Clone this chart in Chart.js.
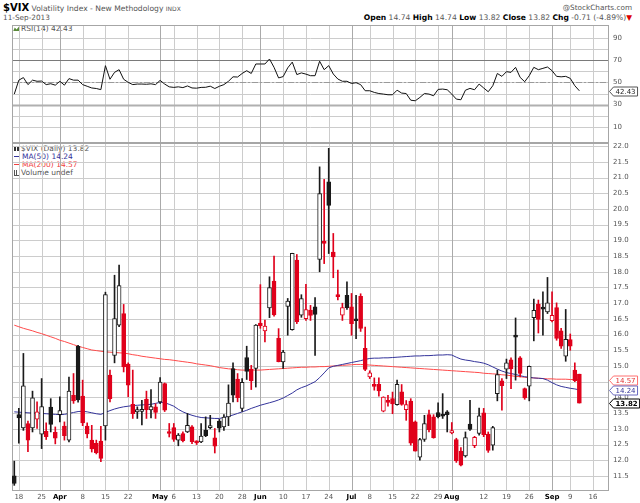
<!DOCTYPE html>
<html>
<head>
<meta charset="utf-8">
<title>$VIX daily</title>
<script src="https://cdn.jsdelivr.net/npm/chart.js@4.4.1/dist/chart.umd.min.js"></script>
<style>
  body { margin: 0; background: #fff; }
  #page { position: relative; width: 640px; height: 503px; overflow: hidden; font-family: 'DejaVu Sans', Verdana, sans-serif; }
  canvas { position: absolute; left: 0; }
  #rsiCanvas { top: 25px; }
  #priceCanvas { top: 143px; }
  .t { position: absolute; white-space: nowrap; font-size: 7.3px; color: #555; line-height: 8px; }
  .t b { color: #000; }
  .ic { display: inline-block; vertical-align: middle; margin-right: 2px; }
  .ln { width: 6px; height: 1px; margin-top: -1px; }
</style>
</head>
<body>
<div id="page">
  <div class="t" style="left:3px;top:2px;line-height:11px;font-size:7.6px"><b style="font-size:10px">$VIX</b> Volatility Index - New Methodology <span style="font-size:6px">INDX</span></div>
  <div class="t" style="left:3px;top:14px">11-Sep-2013</div>
  <div class="t" style="right:8px;top:4px">@StockCharts.com</div>
  <div class="t" id="quote" style="right:8px;top:14px;font-size:7.6px"></div>
  <div class="t" id="rsiLabel" style="left:13px;top:25px;font-size:7.5px"></div>
  <div class="t" id="legend" style="left:14px;top:145px;font-size:7.5px"></div>
  <canvas id="rsiCanvas" width="640" height="118"></canvas>
  <canvas id="priceCanvas" width="640" height="360"></canvas>
</div>
<script>
// trading days of 2013 (MM-DD); the last six are empty future slots on the axis
const DATES = [
  '03-15','03-18','03-19','03-20','03-21','03-22','03-25','03-26','03-27','03-28',
  '04-01','04-02','04-03','04-04','04-05','04-08','04-09','04-10','04-11','04-12',
  '04-15','04-16','04-17','04-18','04-19','04-22','04-23','04-24','04-25','04-26',
  '04-29','04-30','05-01','05-02','05-03','05-06','05-07','05-08','05-09','05-10',
  '05-13','05-14','05-15','05-16','05-17','05-20','05-21','05-22','05-23','05-24',
  '05-28','05-29','05-30','05-31','06-03','06-04','06-05','06-06','06-07','06-10',
  '06-11','06-12','06-13','06-14','06-17','06-18','06-19','06-20','06-21','06-24',
  '06-25','06-26','06-27','06-28','07-01','07-02','07-03','07-05','07-08','07-09',
  '07-10','07-11','07-12','07-15','07-16','07-17','07-18','07-19','07-22','07-23',
  '07-24','07-25','07-26','07-29','07-30','07-31','08-01','08-02','08-05','08-06',
  '08-07','08-08','08-09','08-12','08-13','08-14','08-15','08-16','08-19','08-20',
  '08-21','08-22','08-23','08-26','08-27','08-28','08-29','08-30','09-03','09-04',
  '09-05','09-06','09-09','09-10','09-11',
  '09-12','09-13','09-16','09-17','09-18','09-19'
];

// date axis labels (month names are drawn bold)
const X_TICKS = {
  '03-18': '18', '03-25': '25', '04-01': 'Apr', '04-08': '8', '04-15': '15', '04-22': '22',
  '05-01': 'May', '05-06': '6', '05-13': '13', '05-20': '20', '05-28': '28',
  '06-03': 'Jun', '06-10': '10', '06-17': '17', '06-24': '24',
  '07-01': 'Jul', '07-08': '8', '07-15': '15', '07-22': '22', '07-29': '29',
  '08-01': 'Aug', '08-12': '12', '08-19': '19', '08-26': '26',
  '09-03': 'Sep', '09-09': '9', '09-16': '16'
};

const OPEN = [
  11.50,13.45,13.03,13.17,13.03,13.31,12.83,12.92,13.69,12.89,
  13.45,13.09,12.64,14.07,15.63,14.04,13.09,12.64,12.54,12.61,
  13.09,14.71,15.34,16.30,16.67,15.06,13.78,13.54,13.55,13.94,
  13.60,13.70,13.86,14.44,12.90,13.04,12.64,12.85,12.90,13.06,
  12.57,12.58,12.96,13.04,12.71,13.25,13.06,13.38,14.92,14.58,
  13.65,15.27,14.90,14.92,16.37,16.12,16.85,17.70,15.88,15.13,
  16.90,16.16,18.37,16.62,16.51,16.78,16.88,18.39,18.97,20.86,
  18.63,17.25,16.62,17.25,16.88,16.48,17.22,15.56,14.65,14.36,
  14.42,13.56,13.90,13.96,13.77,14.18,13.61,13.88,13.22,12.10,
  12.66,13.45,13.38,13.52,13.44,13.54,12.87,12.66,12.29,12.14,
  13.15,12.46,12.85,13.51,12.83,12.48,14.12,14.53,14.90,15.20,
  15.98,15.26,14.28,14.36,16.54,16.96,16.83,16.72,16.44,16.86,
  16.12,15.31,15.84,14.87,14.74
];
const HIGH = [
  11.97,13.65,15.40,13.25,14.20,13.86,14.60,13.19,13.96,13.06,
  14.02,13.22,14.65,14.76,15.66,14.55,13.19,13.11,12.64,13.08,
  17.35,14.87,17.89,18.21,16.96,15.10,14.87,13.70,13.91,14.20,
  14.25,13.80,14.63,14.46,13.17,13.17,12.85,12.90,13.49,13.10,
  12.62,13.17,13.38,13.43,13.01,13.30,13.45,14.40,15.10,14.76,
  14.60,15.63,15.02,16.32,17.59,16.46,17.84,18.50,16.19,15.50,
  17.15,18.59,18.55,17.27,17.60,16.93,17.18,21.34,20.94,21.93,
  19.22,18.05,17.00,17.68,17.31,17.25,17.30,16.24,14.85,14.62,
  14.62,14.02,14.07,14.17,14.55,14.41,13.90,13.96,13.25,12.70,
  13.43,13.60,13.45,13.83,14.12,13.58,13.20,12.70,12.40,12.90,
  13.91,12.76,13.66,13.65,12.90,13.08,14.87,14.60,15.22,15.26,
  16.53,15.30,14.30,15.00,17.13,17.10,17.36,17.82,17.36,17.01,
  16.20,16.80,16.02,15.10,14.74
];
const LOW = [
  11.20,12.54,12.95,12.27,12.90,13.01,12.37,12.66,12.90,12.52,
  13.22,12.64,12.58,13.81,13.85,13.10,12.71,12.26,12.20,11.95,
  12.64,13.86,15.10,16.25,14.81,14.02,13.33,13.33,13.12,13.33,
  13.35,13.33,13.80,13.55,12.74,12.60,12.46,12.58,12.88,12.53,
  12.50,12.56,12.75,13.00,12.23,12.90,12.95,13.10,13.86,13.86,
  13.55,14.57,14.25,14.33,16.20,15.77,16.54,16.59,15.13,14.92,
  15.98,16.14,16.35,16.55,16.45,16.45,15.34,18.00,18.26,18.58,
  17.81,17.10,16.45,16.80,15.98,15.87,16.10,14.85,14.60,14.23,
  14.04,13.54,13.72,13.48,13.75,13.75,13.27,12.48,12.29,12.00,
  12.60,12.90,12.70,13.35,13.33,12.90,12.84,11.93,11.82,12.10,
  12.95,12.40,12.80,12.75,12.25,12.32,13.89,13.59,14.60,14.28,
  14.55,14.65,13.94,13.89,15.80,16.05,15.98,16.67,16.40,15.82,
  15.56,15.15,15.50,14.50,13.82
];
const CLOSE = [
  11.26,13.35,14.37,12.64,13.99,13.54,13.71,12.75,13.14,12.70,
  13.58,12.78,14.20,13.89,13.92,13.19,12.84,12.36,12.24,12.06,
  17.27,13.96,16.51,17.56,14.97,14.39,13.48,13.61,13.62,13.61,
  13.71,13.52,14.49,13.59,12.85,12.66,12.80,12.62,13.11,12.59,
  12.55,12.77,12.78,13.07,12.45,13.02,13.37,13.82,14.07,13.99,
  14.48,14.83,14.53,16.30,16.28,16.27,17.50,16.63,15.14,15.44,
  17.07,18.59,16.41,17.15,16.80,16.61,16.64,20.49,18.90,20.11,
  18.47,17.21,16.86,16.86,16.35,16.44,16.20,14.89,14.78,14.35,
  14.21,14.01,13.84,13.79,14.42,13.78,13.77,12.54,12.29,12.66,
  13.17,12.97,12.72,13.39,13.40,13.45,12.94,11.98,11.84,12.72,
  12.98,12.73,13.41,12.81,12.31,13.04,14.73,14.37,15.10,14.91,
  15.92,14.76,13.98,14.99,16.77,16.48,16.81,17.01,16.61,15.88,
  15.63,15.85,15.63,14.53,13.82
];
const MA50 = [
  13.54,13.53,13.52,13.51,13.50,13.50,13.49,13.48,13.47,13.46,
  13.45,13.46,13.49,13.52,13.55,13.56,13.54,13.51,13.48,13.46,
  13.52,13.58,13.63,13.67,13.70,13.72,13.74,13.75,13.76,13.77,
  13.78,13.81,13.84,13.83,13.78,13.72,13.62,13.54,13.48,13.43,
  13.39,13.36,13.35,13.34,13.33,13.33,13.36,13.40,13.44,13.49,
  13.54,13.59,13.65,13.70,13.75,13.79,13.83,13.87,13.92,13.98,
  14.06,14.14,14.24,14.31,14.36,14.43,14.50,14.63,14.78,14.94,
  14.99,15.02,15.05,15.08,15.11,15.14,15.17,15.21,15.24,15.25,
  15.25,15.26,15.26,15.27,15.28,15.29,15.30,15.31,15.32,15.32,
  15.33,15.33,15.34,15.35,15.35,15.36,15.35,15.28,15.22,15.19,
  15.17,15.14,15.12,15.09,15.04,14.97,14.90,14.84,14.79,14.76,
  14.73,14.69,14.66,14.64,14.62,14.61,14.60,14.55,14.47,14.40,
  14.35,14.32,14.29,14.27,14.24
];
const MA200 = [
  16.30,16.25,16.20,16.16,16.12,16.07,16.03,15.98,15.93,15.88,
  15.82,15.78,15.73,15.68,15.63,15.59,15.55,15.51,15.49,15.47,
  15.45,15.44,15.43,15.42,15.41,15.39,15.36,15.34,15.31,15.29,
  15.27,15.25,15.23,15.21,15.20,15.18,15.16,15.14,15.12,15.10,
  15.07,15.05,15.03,15.01,14.98,14.95,14.93,14.91,14.90,14.88,
  14.87,14.87,14.87,14.87,14.87,14.88,14.89,14.90,14.91,14.92,
  14.93,14.94,14.95,14.96,14.96,14.97,14.97,14.98,14.98,14.99,
  15.00,15.01,15.02,15.03,15.04,15.05,15.05,15.04,15.03,15.02,
  15.01,15.00,14.99,14.98,14.97,14.96,14.95,14.94,14.93,14.92,
  14.91,14.90,14.89,14.88,14.87,14.86,14.85,14.84,14.83,14.82,
  14.81,14.80,14.79,14.77,14.76,14.75,14.74,14.72,14.71,14.69,
  14.67,14.66,14.64,14.63,14.62,14.61,14.60,14.59,14.59,14.58,
  14.58,14.58,14.57,14.57,14.57
];
const RSI = [
  39.5,52,54.3,48,52,51,51.2,48,48.8,47.5,
  51,47.5,53.4,52,52,48,46.5,45,44.5,43.5,
  65,52.8,59,61.4,52.8,50,48,48.5,48.5,48.3,
  48.7,48,51.8,48.5,46,45.5,46,45.3,46.8,45,
  44.8,45.5,45.6,46.6,44.5,46.5,48,51,55,54.8,
  58,60.5,58,66.5,66.5,66.5,71,63.5,54,55.2,
  63,68.2,57,58.5,57.4,56,56,69,61.4,65,
  57.5,53,51,51,49,49.7,48,42.5,42.5,41,
  40,39.5,38.9,38.9,43,40.4,40,34,33.5,36.5,
  40,39.5,38,43.7,44,43.4,39.5,35,34.4,43,
  44.6,43.4,48.5,45,41.6,47,58,55.4,59.6,59,
  63.5,54.5,50.6,56,63.5,61.4,62.6,63.8,60.5,55.4,
  55,55.4,53.6,47,42.43
];

const RSI_GRID = [10, 20, 30, 40, 50, 60, 70, 80, 90];
const RSI_TICKS = [10, 30, 50, 70, 90];
const PRICE_TICKS = [11.5, 12.0, 12.5, 13.0, 13.5, 14.0, 14.5, 15.0, 15.5, 16.0, 16.5, 17.0,
                     17.5, 18.0, 18.5, 19.0, 19.5, 20.0, 20.5, 21.0, 21.5, 22.0];

const FONT = "'DejaVu Sans', Verdana, sans-serif";
const UP = '#1a1a1a', DOWN = '#e0001b';
const GRID = '#cccccc', GRID_MONTH = '#aaaaaa';
const last = a => a[a.length - 1];

// header, rsi label and legend texts come from the data
(function fillTexts() {
  const n = CLOSE.length - 1;
  const chg = CLOSE[n] - CLOSE[n - 1];
  const pct = chg / CLOSE[n - 1] * 100;
  document.getElementById('quote').innerHTML =
    `<b>Open</b> ${OPEN[n].toFixed(2)} <b>High</b> ${HIGH[n].toFixed(2)} <b>Low</b> ${LOW[n].toFixed(2)} ` +
    `<b>Close</b> ${CLOSE[n].toFixed(2)} <b>Chg</b> ${chg.toFixed(2)} (${pct.toFixed(2)}%)<span style="color:#d00">&#9660;</span>`;
  document.getElementById('rsiLabel').innerHTML =
    `<span class="ic" style="width:6px;height:5px;background:#5a8a3a;clip-path:polygon(0 100%,30% 20%,60% 60%,100% 0,100% 100%)"></span>RSI(14) ${last(RSI).toFixed(2)}`;
  document.getElementById('legend').innerHTML =
    `<div><span class="ic" style="width:5px;height:5px;border-left:2px solid #333;border-right:2px solid #333;box-sizing:border-box"></span>$VIX (Daily) ${last(CLOSE).toFixed(2)}</div>` +
    `<div style="color:#33339a"><span class="ic ln" style="background:#33339a"></span>MA(50) ${last(MA50).toFixed(2)}</div>` +
    `<div style="color:#f04040"><span class="ic ln" style="background:#f04040"></span>MA(200) ${last(MA200).toFixed(2)}</div>` +
    `<div><span class="ic" style="width:5px;height:5px;border-bottom:1px solid #555;background:linear-gradient(90deg,#555 1px,transparent 1px,transparent 2px,#555 2px,#555 3px,transparent 3px)"></span>Volume undef</div>`;
})();

const tickText = i => X_TICKS[DATES[i]] ?? null;
const isMonth = t => typeof t === 'string' && /^[A-Z]/.test(t);

function xAxis(withLabels) {
  return {
    type: 'category',
    offset: true,
    border: { display: false },
    grid: { display: false, drawTicks: false },
    ticks: {
      display: withLabels,
      autoSkip: false,
      maxRotation: 0,
      minRotation: 0,
      padding: 2,
      callback: (v, i) => tickText(i) ?? '',
      color: c => isMonth(c.tick && c.tick.label) ? '#000' : '#555',
      font: c => ({ family: FONT, size: 7, weight: isMonth(c.tick && c.tick.label) ? 'bold' : 'normal' })
    },
    afterFit: s => { s.height = withLabels ? 12 : 0; s.paddingLeft = 0; s.paddingRight = 0; }
  };
}

function yAxis(min, max, gridValues, label) {
  return {
    position: 'right',
    min, max,
    border: { display: false },
    grid: { display: false, drawTicks: false },
    afterBuildTicks: s => { s.ticks = gridValues.map(v => ({ value: v })); },
    afterFit: s => { s.width = 31; s.paddingTop = 0; s.paddingBottom = 0; },
    ticks: { padding: 4, color: '#555', font: { family: FONT, size: 7 }, callback: label }
  };
}

// grid, frame, reference lines and value tags for one panel
function panelDecor(lines, tags) {
  return {
    id: 'panelDecor',
    beforeDatasetsDraw(chart) {
      const { ctx, chartArea: a } = chart;
      const x = chart.scales.x, y = chart.scales.y;
      ctx.save();
      ctx.lineWidth = 1;
      // horizontal grid at the y scale's ticks
      ctx.strokeStyle = GRID;
      y.ticks.forEach(t => {
        const py = Math.round(y.getPixelForValue(t.value)) + 0.5;
        ctx.beginPath(); ctx.moveTo(a.left, py); ctx.lineTo(a.right, py); ctx.stroke();
      });
      // vertical grid at labelled dates
      DATES.forEach((d, i) => {
        const t = tickText(i);
        if (t === null) return;
        const px = Math.round(x.getPixelForValue(i)) + 0.5;
        ctx.strokeStyle = isMonth(t) ? GRID_MONTH : GRID;
        ctx.beginPath(); ctx.moveTo(px, a.top); ctx.lineTo(px, a.bottom); ctx.stroke();
      });
      lines.forEach(l => {
        const py = Math.round(y.getPixelForValue(l.value)) + 0.5;
        ctx.strokeStyle = l.color;
        ctx.lineWidth = l.width;
        ctx.setLineDash(l.dash || []);
        ctx.beginPath(); ctx.moveTo(a.left, py); ctx.lineTo(a.right, py); ctx.stroke();
      });
      ctx.setLineDash([]);
      ctx.strokeStyle = '#a6a6a6';
      ctx.lineWidth = 1;
      ctx.strokeRect(a.left + 0.5, a.top + 0.5, a.right - a.left - 1, a.bottom - a.top - 1);
      ctx.restore();
    },
    afterDraw(chart) {
      const { ctx, chartArea: a } = chart;
      const y = chart.scales.y;
      ctx.save();
      tags.forEach(t => {
        const py = Math.round(y.getPixelForValue(t.value)) + 0.5;
        ctx.font = (t.bold ? 'bold ' : '') + '7px ' + FONT;
        const txt = t.value.toFixed(2);
        const w = ctx.measureText(txt).width + 4;
        const x0 = a.right + 0.5, h = 4.5;
        ctx.beginPath();
        ctx.moveTo(x0, py);
        ctx.lineTo(x0 + 4, py - h);
        ctx.lineTo(x0 + 4 + w, py - h);
        ctx.lineTo(x0 + 4 + w, py + h);
        ctx.lineTo(x0 + 4, py + h);
        ctx.closePath();
        ctx.fillStyle = '#fff';
        ctx.fill();
        ctx.strokeStyle = t.stroke;
        ctx.lineWidth = 1;
        ctx.stroke();
        ctx.fillStyle = t.color;
        ctx.textBaseline = 'middle';
        ctx.fillText(txt, x0 + 6, py + 0.5);
      });
      ctx.restore();
    }
  };
}

const baseOptions = {
  responsive: false,
  animation: false,
  events: [],
  layout: { padding: { left: 12, right: 0, top: 0, bottom: 0 } },
  plugins: { legend: { display: false }, tooltip: { enabled: false } }
};

// RSI panel
new Chart(document.getElementById('rsiCanvas'), {
  type: 'line',
  data: {
    labels: DATES,
    datasets: [{ data: RSI, borderColor: '#111', borderWidth: 1, pointRadius: 0, tension: 0 }]
  },
  options: {
    ...baseOptions,
    scales: {
      x: xAxis(false),
      y: yAxis(-4.4, 101.5, RSI_GRID, v => RSI_TICKS.includes(v) ? String(v) : '')
    }
  },
  plugins: [panelDecor(
    [
      { value: 70, color: '#7a7a7a', width: 1 },
      { value: 30, color: '#b0b0b0', width: 2 },
      { value: 50, color: '#9a9a9a', width: 1, dash: [6, 2, 2, 2] }
    ],
    [{ value: last(RSI), stroke: '#555', color: '#222' }]
  )]
});

// price panel: candles as floating bars
const candleColors = CLOSE.map((c, i) => (i === 0 || c >= CLOSE[i - 1]) ? UP : DOWN);
const bodyFill = CLOSE.map((c, i) => c > OPEN[i] ? '#ffffff' : candleColors[i]);

new Chart(document.getElementById('priceCanvas'), {
  data: {
    labels: DATES,
    datasets: [
      {
        type: 'bar', label: 'body',
        data: OPEN.map((o, i) => [o, CLOSE[i]]),
        backgroundColor: bodyFill, borderColor: candleColors, borderWidth: 1,
        borderSkipped: false, barThickness: 4, minBarLength: 2, grouped: false, order: 1
      },
      {
        type: 'bar', label: 'wick',
        data: LOW.map((l, i) => [l, HIGH[i]]),
        backgroundColor: candleColors, borderWidth: 0,
        barThickness: 1, grouped: false, order: 2
      },
      {
        type: 'line', label: 'MA(50)', data: MA50,
        borderColor: '#33339a', borderWidth: 1, pointRadius: 0, tension: 0, order: 3
      },
      {
        type: 'line', label: 'MA(200)', data: MA200,
        borderColor: '#ff4a4a', borderWidth: 1, pointRadius: 0, tension: 0, order: 4
      }
    ]
  },
  options: {
    ...baseOptions,
    scales: {
      x: xAxis(true),
      y: yAxis(11.02, 22.1, PRICE_TICKS, v => v.toFixed(1))
    }
  },
  plugins: [panelDecor(
    [],
    [
      { value: last(MA200), stroke: '#ff7070', color: '#e03030' },
      { value: last(MA50), stroke: '#6a6ac0', color: '#33339a' },
      { value: last(CLOSE), stroke: '#000', color: '#000', bold: true }
    ]
  )]
});
</script>
</body>
</html>
